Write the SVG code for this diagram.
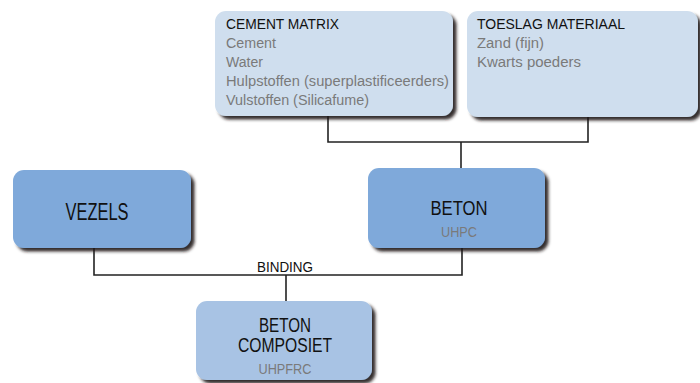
<svg xmlns="http://www.w3.org/2000/svg" width="700" height="383" viewBox="0 0 700 383">
<style>
text{font-family:"Liberation Sans",Arial,sans-serif;}
.title{font-size:15.5px;fill:#111;}
.item{font-size:15.5px;fill:#7a7a7a;}
.big{fill:#111;text-anchor:middle;}
.sub{font-size:15.5px;fill:#7a7a7a;text-anchor:middle;}
.light{fill:#cfdeee;}
.mid{fill:#7fa9da;}
.comp{fill:#a8c3e4;}
.conn{fill:none;stroke:#222;stroke-width:1.6;}
</style>
<defs>
<filter id="sh" x="-10%" y="-10%" width="130%" height="140%">
<feDropShadow dx="3.5" dy="3.5" stdDeviation="1.7" flood-color="#1a1212" flood-opacity="0.9"/>
</filter>
</defs>
<g id="connectors">
<polyline class="conn" points="328,115 328,142 588,142 588,115"/>
<line class="conn" x1="461" y1="142" x2="461" y2="169"/>
<polyline class="conn" points="94,248 94,275 462,275 462,247"/>
<line class="conn" x1="286" y1="275" x2="286" y2="301"/>
<text class="big" x="285" y="272" style="font-size:15.5px" textLength="56" lengthAdjust="spacingAndGlyphs">BINDING</text>
</g>
<g id="cement-matrix">
<rect class="light" x="215" y="11" width="238" height="105" rx="11" filter="url(#sh)"/>
<text class="title" x="226" y="29" textLength="113" lengthAdjust="spacingAndGlyphs">CEMENT MATRIX</text>
<text class="item" x="226" y="48" textLength="50" lengthAdjust="spacingAndGlyphs">Cement</text>
<text class="item" x="226" y="67" textLength="37" lengthAdjust="spacingAndGlyphs">Water</text>
<text class="item" x="226" y="86" textLength="223" lengthAdjust="spacingAndGlyphs">Hulpstoffen (superplastificeerders)</text>
<text class="item" x="226" y="105" textLength="143" lengthAdjust="spacingAndGlyphs">Vulstoffen (Silicafume)</text>
</g>
<g id="toeslag-materiaal">
<rect class="light" x="467" y="11" width="231" height="106" rx="11" filter="url(#sh)"/>
<text class="title" x="477" y="29" textLength="148" lengthAdjust="spacingAndGlyphs">TOESLAG MATERIAAL</text>
<text class="item" x="477" y="48" textLength="67" lengthAdjust="spacingAndGlyphs">Zand (fijn)</text>
<text class="item" x="477" y="67" textLength="104" lengthAdjust="spacingAndGlyphs">Kwarts poeders</text>
</g>
<g id="vezels">
<rect class="mid" x="13" y="170" width="178" height="78" rx="11" filter="url(#sh)"/>
<text class="big" x="97" y="220" style="font-size:23px" textLength="63" lengthAdjust="spacingAndGlyphs">VEZELS</text>
</g>
<g id="beton">
<rect class="mid" x="368" y="168" width="177" height="80" rx="11" filter="url(#sh)"/>
<text class="big" x="459" y="215" style="font-size:21px" textLength="57" lengthAdjust="spacingAndGlyphs">BETON</text>
<text class="sub" x="459" y="237" textLength="36" lengthAdjust="spacingAndGlyphs">UHPC</text>
</g>
<g id="beton-composiet">
<rect class="comp" x="196" y="301" width="176" height="79" rx="11" filter="url(#sh)"/>
<text class="big" x="285" y="332" style="font-size:19.5px" textLength="52" lengthAdjust="spacingAndGlyphs">BETON</text>
<text class="big" x="285" y="352" style="font-size:19.5px" textLength="94" lengthAdjust="spacingAndGlyphs">COMPOSIET</text>
<text class="sub" x="285" y="374" textLength="53" lengthAdjust="spacingAndGlyphs">UHPFRC</text>
</g>
</svg>
